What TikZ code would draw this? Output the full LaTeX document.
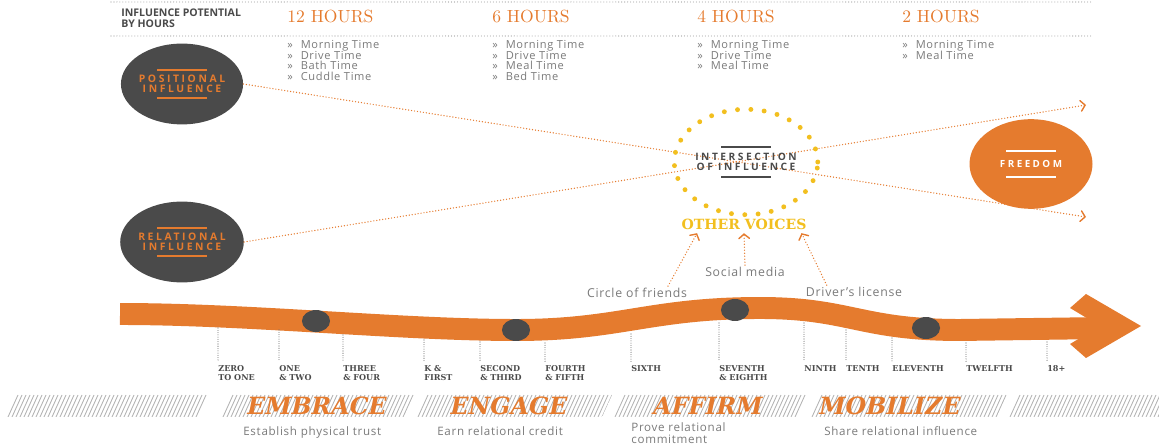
\documentclass[tikz,border=0pt]{standalone}
\usepackage{fontspec}
\setsansfont{Open Sans}
\newfontfamily\listfont[LetterSpace=6]{Open Sans}
\newfontfamily\spacedfont[LetterSpace=25]{Open Sans}
\newfontfamily\slabfont{DejaVu Serif}
\usetikzlibrary{shapes.geometric,arrows.meta,calc,positioning}
\lineskiplimit=-6pt

\definecolor{brandorange}{HTML}{E57B2E}
\definecolor{dotgray}{HTML}{4A4A4A}
\definecolor{textgray}{HTML}{7A7A7A}
\definecolor{voiceyellow}{HTML}{F2BF1F}
\definecolor{hatchgray}{HTML}{B4B4B4}

\newcommand\listmark{»\hspace{4.5pt}}

\tikzset{
  rowrule/.style={color=gray!80, line width=0.6pt, dash pattern=on 0pt off 1.7pt, line cap=round},
  headtitle/.style={inner sep=0pt, align=left, text=dotgray, font=\sffamily\bfseries\fontsize{6}{6.3}\selectfont},
  hourhead/.style={inner sep=0pt, text=brandorange, font=\rmfamily\fontsize{10}{12}\selectfont},
  hourlist/.style={inner sep=0pt, align=left, text=textgray, font=\listfont\fontsize{6.3}{6.1}\selectfont},
  influence/.style={ellipse, fill=dotgray, minimum width=68pt, minimum height=46pt, inner sep=0pt,
    text=brandorange, align=center, font=\spacedfont\bfseries\fontsize{5.9}{5.8}\selectfont},
  meetring/.style={ellipse, draw=voiceyellow, line width=2.8pt, dash pattern=on 0pt off 7.6pt, line cap=round,
    minimum width=78pt, minimum height=60pt, inner sep=0pt, text=dotgray, align=center,
    font=\spacedfont\bfseries\fontsize{5.8}{5.9}\selectfont},
  goal/.style={ellipse, fill=brandorange, minimum width=70pt, minimum height=51pt, inner sep=0pt,
    text=white, font=\spacedfont\bfseries\fontsize{5.6}{5.7}\selectfont},
  reach/.style={brandorange, line width=0.8pt, dash pattern=on 0pt off 1.7pt, line cap=round,
    -{Straight Barb[length=2.5pt,width=6pt,line cap=round]}},
  feed/.style={reach},
  voices/.style={inner sep=2pt, text=voiceyellow, font=\slabfont\bfseries\fontsize{8}{9}\selectfont},
  note/.style={inner sep=1pt, text=textgray, font=\listfont\fontsize{7}{8}\selectfont},
  lifeband/.style={brandorange, line width=12.5pt},
  stagedot/.style={ellipse, fill=dotgray, minimum width=16pt, minimum height=12.5pt, inner sep=0pt},
  tickline/.style={dotgray!80, line width=0.6pt, dash pattern=on 0pt off 1.3pt, line cap=round},
  gradelabel/.style={anchor=north west, inner sep=0pt, align=left, text=dotgray,
    font=\slabfont\bfseries\fontsize{4.6}{5.1}\selectfont},
  hatch/.style={hatchgray, line width=0.5pt},
  stagename/.style={inner sep=0pt, text=brandorange, font=\slabfont\bfseries\itshape\fontsize{13.5}{14}\selectfont},
  stagenote/.style={anchor=north west, inner sep=0pt, align=left, text=textgray, font=\listfont\fontsize{6.6}{6.8}\selectfont}
}

\begin{document}
\begin{tikzpicture}[x=0.02cm,y=-0.02cm]
  \useasboundingbox (0,0) rectangle (1159,445);

  % hours table
  \draw[rowrule] (111,2) -- (1093,2);
  \draw[rowrule] (111,36) -- (1093,36);
  \node[headtitle, anchor=west] (title) at (121,18) {INFLUENCE POTENTIAL\\BY HOURS};
  \foreach \x/\h/\items in {287/12/{\listmark Morning Time\\\listmark Drive Time\\\listmark Bath Time\\\listmark Cuddle Time},
      492/6/{\listmark Morning Time\\\listmark Drive Time\\\listmark Meal Time\\\listmark Bed Time},
      697/4/{\listmark Morning Time\\\listmark Drive Time\\\listmark Meal Time},
      902/2/{\listmark Morning Time\\\listmark Meal Time}}
  {
    \node[hourhead, anchor=base west] (hours\h) at (\x,23) {\h\ HOURS};
    \node[hourlist, anchor=north west] (list\h) at (\x,40) {\items};
  }

  % influences
  \node[influence] (positional) at (182,84) {POSITIONAL\\INFLUENCE};
  \node[influence] (relational) at (182,242) {RELATIONAL\\INFLUENCE};
  \coordinate (uptip) at (1086,105);
  \coordinate (lowtip) at (1086,217);
  \draw[reach] (positional.east) -- (lowtip);
  \draw[reach] (relational.east) -- (uptip);
  \node[meetring] (meet) at (746,162) {INTERSECTION\\OF INFLUENCE};
  \node[goal] (freedom) at (1031,164) {FREEDOM};
  \foreach \n/\c/\d in {positional/brandorange/14, relational/brandorange/14, meet/dotgray/15, freedom/white/13}
    \foreach \s in {-1,1}
      \draw[\c, line width=1.3pt] ($(\n.center)+(-25,\s*\d)$) -- ++(50,0);

  % other voices
  \node[voices] (voices) at (744,224) {OTHER VOICES};
  \node[note] (friends) at (637,293) {Circle of friends};
  \node[note] (social) at (745,272) {Social media};
  \node[note] (license) at (854,292) {Driver’s license};
  \draw[feed] ([xshift=-12pt]friends.north east) -- ([xshift=11pt]voices.south west);
  \draw[feed] (social.north) -- (voices.south);
  \draw[feed] ([xshift=13pt]license.north west) -- ([xshift=-5pt]voices.south east);

  % timeline
  \draw[lifeband] (120,314) .. controls (250,314) and (400,330) .. (516,330)
    .. controls (620,330) and (650,308) .. (760,308)
    .. controls (850,308) and (860,330) .. (960,330) -- (1105,328);
  \fill[brandorange] (1070,308) -- (1086,294) -- (1141,326) -- (1086,358) -- (1070,344) -- (1100,326) -- cycle;
  \node[stagedot] (dot1) at (316,321) {};
  \node[stagedot] (dot2) at (516,330) {};
  \node[stagedot] (dot3) at (735,310) {};
  \node[stagedot] (dot4) at (926,328) {};

  \foreach \x/\t/\lab [count=\i] in {218/328/{ZERO\\TO ONE}, 279/330/{ONE\\\& TWO}, 343/335/{THREE\\\& FOUR},
      424/340/{K \&\\FIRST}, 480/342/{SECOND\\\& THIRD}, 545/343/{FOURTH\\\& FIFTH}, 631/334/{SIXTH},
      719/323/{SEVENTH\\\& EIGHTH}, 804/323/{NINTH}, 846/330/{TENTH}, 892/338/{ELEVENTH},
      966/343/{TWELFTH}, 1047/342/{18+}}
  {
    \coordinate (tick\i) at (\x,\t);
    \node[gradelabel] (grade\i) at (\x,365) {\lab};
    \draw[tickline] (tick\i) -- ([yshift=2pt]grade\i.north west);
  }

  % stages
  \foreach \a/\b in {6/209, 221/404, 416/602, 613/798, 810/997, 1008/1170}
  {
    \begin{scope}
      \clip (\a,417) -- (\a+10,395) -- (\b+10,395) -- (\b,417) -- cycle;
      \foreach \h in {0,4,...,200}
        \draw[hatch] (\a+\h-10,417) -- (\a+\h,395);
    \end{scope}
  }
  \node[stagename] (embrace) at (317,406) {EMBRACE};
  \node[stagename] (engage) at (509,406) {ENGAGE};
  \node[stagename] (affirm) at (708,406) {AFFIRM};
  \node[stagename] (mobilize) at (890,406) {MOBILIZE};
  \node[stagenote] (trust) at (243,426) {Establish physical trust};
  \node[stagenote] (credit) at (437,426) {Earn relational credit};
  \node[stagenote] (commit) at (631,422) {Prove relational\\commitment};
  \node[stagenote] (share) at (824,426) {Share relational influence};
\end{tikzpicture}
\end{document}
